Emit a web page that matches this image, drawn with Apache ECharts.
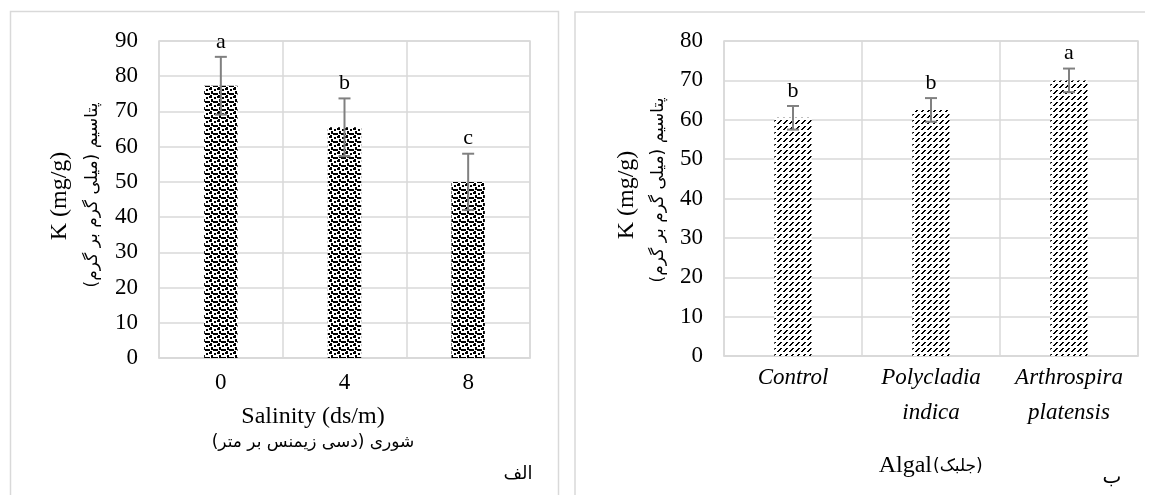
<!DOCTYPE html>
<html>
<head>
<meta charset="utf-8">
<script src="https://cdn.jsdelivr.net/npm/echarts@6/dist/echarts.min.js"></script>
<style>
    html, body { margin: 0; padding: 0; background: #fff; }
    #chart { width: 1153px; height: 495px; }
</style>
</head>
<body>
<div id="chart"></div>
<script>
    // data
    const salinityCats = ['0', '4', '8'];
    const salinityK = [77.3, 65.5, 50];
    const salinityErr = [8.2, 8.2, 8];
    const salinityLetters = ['a', 'b', 'c'];

    const algaCats = ['Control', 'Polycladia\nindica', 'Arthrospira\nplatensis'];
    const algaK = [60.5, 62.5, 70];
    const algaErr = [3, 3, 3];
    const algaLetters = ['b', 'b', 'a'];

    const serif = '"Liberation Serif", "Times New Roman", serif';
    const persian = '"DejaVu Sans", sans-serif';
    const gridColor = '#d9d9d9';
    const RLM = '\u200F';

    // fill patterns (excel style)
    function makePattern(w, h, draw) {
        let c = document.createElement('canvas');
        c.width = w; c.height = h;
        let ctx = c.getContext('2d');
        ctx.fillStyle = '#fff';
        ctx.fillRect(0, 0, w, h);
        ctx.fillStyle = '#000';
        draw(ctx);
        return c;
    }
    const confetti = makePattern(8, 8, (ctx) => {
        [[1, 0, 3, 2], [6, 1, 2, 2], [3, 3, 2, 3], [0, 5, 2, 2], [5, 5, 3, 2], [2, 7, 2, 1]]
            .forEach(r => ctx.fillRect(r[0], r[1], r[2], r[3]));
    });
    const dashedDiag = makePattern(12, 12, (ctx) => {
        for (let y = 0; y < 12; y++) {
            for (let x = 0; x < 12; x++) {
                let d = (x + y) % 6;
                if ((d === 0 || d === 1) && (y % 6) < 4) ctx.fillRect(x, y, 1, 1);
            }
        }
    });

    function errorItem(errs, letters) {
        return function (params, api) {
            let x = api.value(0), v = api.value(1), e = errs[params.dataIndex];
            let top = api.coord([x, v + e]);
            let bot = api.coord([x, v - e]);
            let line = {stroke: '#808080', lineWidth: 2};
            return {
                type: 'group',
                children: [
                    {type: 'line', shape: {x1: top[0], y1: top[1], x2: bot[0], y2: bot[1]}, style: line},
                    {type: 'line', shape: {x1: top[0] - 6, y1: top[1], x2: top[0] + 6, y2: top[1]}, style: line},
                    {type: 'line', shape: {x1: bot[0] - 6, y1: bot[1], x2: bot[0] + 6, y2: bot[1]}, style: line},
                    {
                        type: 'text', x: top[0], y: top[1] - 4,
                        style: {
                            text: letters[params.dataIndex], font: '22px ' + serif, fill: '#000',
                            align: 'center', verticalAlign: 'bottom'
                        }
                    }
                ]
            };
        };
    }

    let myChart = echarts.init(document.getElementById('chart'));

    let yAxisCommon = {
        type: 'value',
        interval: 10,
        min: 0,
        axisLine: {show: false},
        axisTick: {show: false},
        axisLabel: {color: '#000', fontFamily: serif, fontSize: 23},
        splitLine: {lineStyle: {color: gridColor, width: 1.5}}
    };

    let option = {
        animation: false,
        backgroundColor: '#fff',
        grid: [
            {left: 159, top: 41, width: 371, height: 317, show: true, borderColor: gridColor, borderWidth: 1.5},
            {left: 724, top: 41, width: 414, height: 315, show: true, borderColor: gridColor, borderWidth: 1.5}
        ],
        xAxis: [
            {
                type: 'category', gridIndex: 0, data: salinityCats,
                axisLine: {lineStyle: {color: gridColor, width: 1.5}},
                axisTick: {show: false},
                axisLabel: {color: '#000', fontFamily: serif, fontSize: 23, margin: 13},
                splitLine: {show: true, lineStyle: {color: gridColor, width: 1.5}}
            },
            {
                type: 'category', gridIndex: 1, data: algaCats,
                axisLine: {lineStyle: {color: gridColor, width: 1.5}},
                axisTick: {show: false},
                axisLabel: {
                    color: '#000', fontFamily: serif, fontSize: 23, fontStyle: 'italic',
                    lineHeight: 35, margin: 4, interval: 0
                },
                splitLine: {show: true, lineStyle: {color: gridColor, width: 1.5}}
            }
        ],
        yAxis: [
            Object.assign({}, yAxisCommon, {gridIndex: 0, max: 90, axisLabel: Object.assign({}, yAxisCommon.axisLabel, {margin: 21})}),
            Object.assign({}, yAxisCommon, {gridIndex: 1, max: 80, axisLabel: Object.assign({}, yAxisCommon.axisLabel, {margin: 21})})
        ],
        series: [
            {
                type: 'bar', xAxisIndex: 0, yAxisIndex: 0, data: salinityK, barWidth: '27%',
                itemStyle: {color: {image: confetti, repeat: 'repeat'}}
            },
            {
                type: 'custom', xAxisIndex: 0, yAxisIndex: 0,
                data: salinityK.map((v, i) => [i, v]),
                renderItem: errorItem(salinityErr, salinityLetters), z: 5
            },
            {
                type: 'bar', xAxisIndex: 1, yAxisIndex: 1, data: algaK, barWidth: '27%',
                itemStyle: {color: {image: dashedDiag, repeat: 'repeat'}}
            },
            {
                type: 'custom', xAxisIndex: 1, yAxisIndex: 1,
                data: algaK.map((v, i) => [i, v]),
                renderItem: errorItem(algaErr, algaLetters), z: 5
            }
        ],
        graphic: [
            // panel frames
            {type: 'rect', shape: {x: 10.5, y: 11.5, width: 548, height: 520}, style: {fill: 'none', stroke: gridColor, lineWidth: 1.5}, silent: true},
            {type: 'polyline', shape: {points: [[575, 520], [575, 12], [1145, 12]]}, style: {fill: 'none', stroke: gridColor, lineWidth: 1.5}, silent: true},

            // left panel titles
            {type: 'text', x: 60, y: 196, rotation: Math.PI / 2, style: {text: 'K (mg/g)', font: '24px ' + serif, fill: '#000', align: 'center', verticalAlign: 'middle'}},
            {type: 'text', x: 93, y: 195, rotation: Math.PI / 2, style: {text: RLM + 'پتاسیم (میلی گرم بر گرم)' + RLM, font: '17px ' + persian, fill: '#000', align: 'center', verticalAlign: 'middle'}},
            {type: 'text', x: 313, y: 417, style: {text: 'Salinity (ds/m)', font: '24px ' + serif, fill: '#000', align: 'center', verticalAlign: 'middle'}},
            {type: 'text', x: 313, y: 443, style: {text: RLM + 'شوری (دسی زیمنس بر متر)' + RLM, font: '17px ' + persian, fill: '#000', align: 'center', verticalAlign: 'middle'}},
            {type: 'text', x: 518, y: 474, style: {text: 'الف', font: '18px ' + persian, fill: '#000', align: 'center', verticalAlign: 'middle'}},

            // right panel titles
            {type: 'text', x: 627, y: 195, rotation: Math.PI / 2, style: {text: 'K (mg/g)', font: '24px ' + serif, fill: '#000', align: 'center', verticalAlign: 'middle'}},
            {type: 'text', x: 659, y: 190, rotation: Math.PI / 2, style: {text: RLM + 'پتاسیم (میلی گرم بر گرم)' + RLM, font: '17px ' + persian, fill: '#000', align: 'center', verticalAlign: 'middle'}},
            {type: 'text', x: 932, y: 466, style: {text: 'Algal', font: '24px ' + serif, fill: '#000', align: 'right', verticalAlign: 'middle'}},
            {type: 'text', x: 933, y: 467, style: {text: '(جلبک)', font: '17px ' + persian, fill: '#000', align: 'left', verticalAlign: 'middle'}},
            {type: 'text', x: 1112, y: 478, style: {text: 'ب', font: '20px ' + persian, fill: '#000', align: 'center', verticalAlign: 'middle'}}
        ]
    };
    myChart.setOption(option);
</script>
</body>
</html>
